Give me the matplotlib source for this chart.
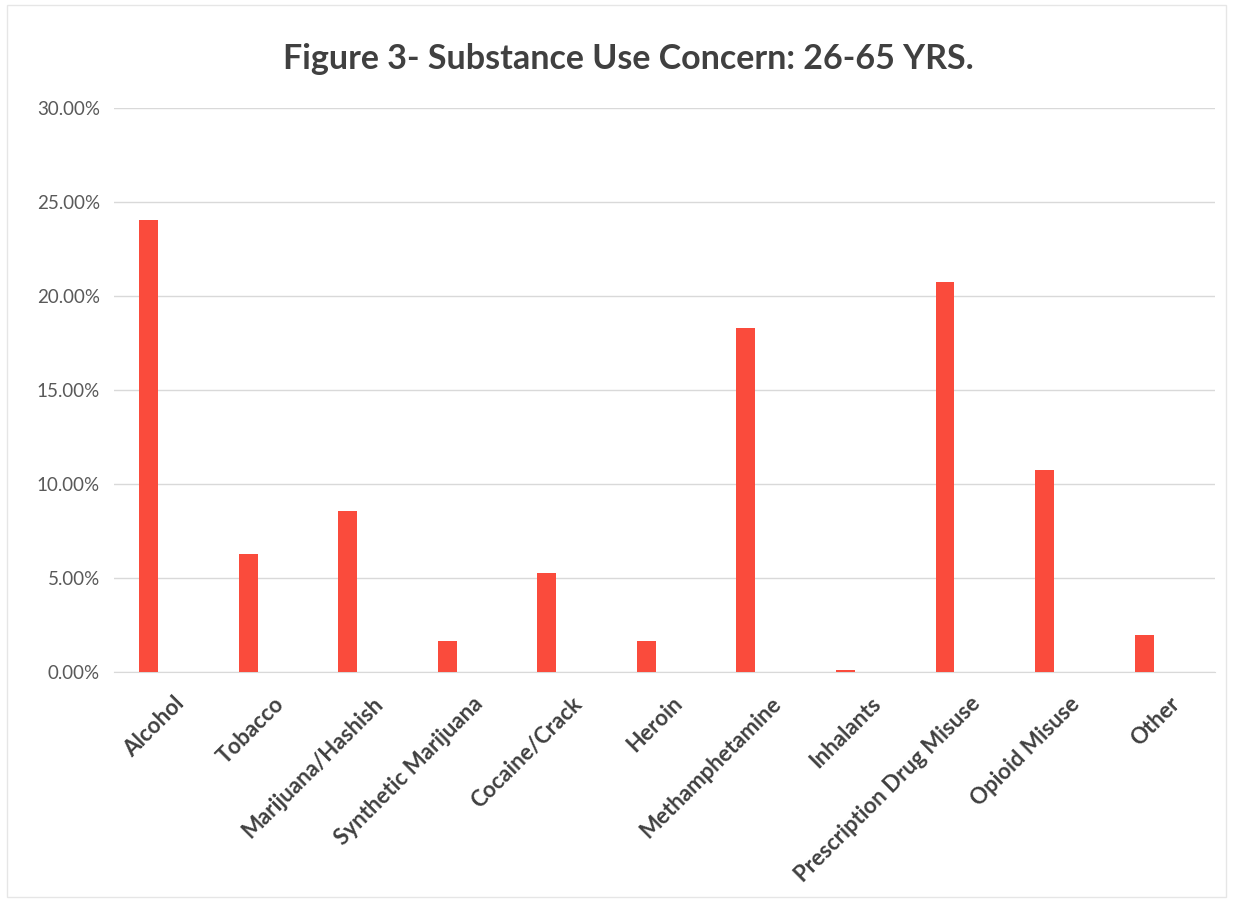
import matplotlib.pyplot as plt
from matplotlib.ticker import PercentFormatter

# values (percent)
categories = ['Alcohol', 'Tobacco', 'Marijuana/Hashish', 'Synthetic Marijuana',
              'Cocaine/Crack', 'Heroin', 'Methamphetamine', 'Inhalants',
              'Prescription Drug Misuse', 'Opioid Misuse', 'Other']
concern = [24.05, 6.3, 8.58, 1.67, 5.27, 1.65, 18.3, 0.1, 20.77, 10.77, 1.98]
yticks = [0, 5, 10, 15, 20, 25, 30]

plt.rcParams['font.family'] = ['Lato', 'DejaVu Sans']

fig = plt.figure(figsize=(12.37, 9.01), dpi=100)
ax = fig.add_axes([0.092, 0.254, 0.890, 0.626])

x = list(range(len(categories)))
ax.bar(x, concern, width=0.19, color='#FA4B3C', zorder=3)

ax.set_ylim(0, 30)
ax.set_xlim(-0.35, 10.71)
ax.set_yticks(yticks)
ax.yaxis.set_major_formatter(PercentFormatter(decimals=2))
ax.grid(axis='y', color='#d9d9d9', linewidth=1, zorder=0)

# labels in the reference end a bit right of the bar centre
ax.set_xticks([i + 0.25 for i in x])
ax.set_xticklabels(categories, rotation=45, ha='right', rotation_mode='anchor',
                   fontsize=16, fontweight='bold', color='#404040')
ax.tick_params(axis='y', labelsize=13.5, labelcolor='#595959', length=0, pad=10)
ax.tick_params(axis='x', length=0, pad=15)

for s in ['top', 'right', 'left']:
    ax.spines[s].set_visible(False)
ax.spines['bottom'].set_color('#d9d9d9')

fig.text(0.508, 0.935, 'Figure 3- Substance Use Concern: 26-65 YRS.',
         ha='center', va='center', fontsize=24.5, fontweight='bold', color='#404040')

# faint chart-area border
fig.patches.append(plt.Rectangle((0.006, 0.004), 0.985, 0.99, transform=fig.transFigure,
                                 fill=False, edgecolor='#e6e6e6', linewidth=1))

fig.savefig('out.png', dpi=100)
